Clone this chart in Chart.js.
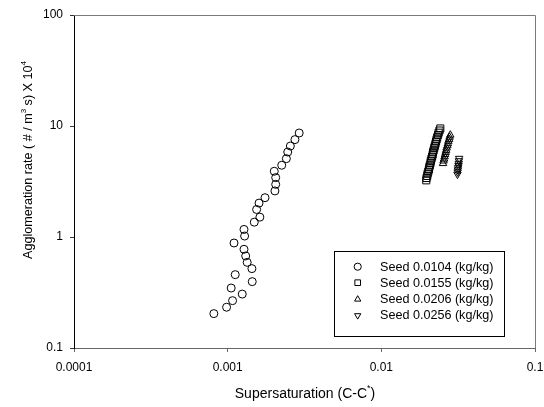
<!DOCTYPE html>
<html>
<head>
<meta charset="utf-8">
<script src="https://cdn.jsdelivr.net/npm/chart.js@4.4.0/dist/chart.umd.min.js"></script>
<style>
  html, body { margin: 0; padding: 0; background: #fff; }
  #wrap { width: 544px; height: 407px; }
</style>
</head>
<body>
<div id="wrap"><canvas id="c" width="544" height="407"></canvas></div>
<script>
// ---- Data ----
const seedLabels = ['Seed 0.0104 (kg/kg)', 'Seed 0.0155 (kg/kg)', 'Seed 0.0206 (kg/kg)', 'Seed 0.0256 (kg/kg)'];

const s1x = [0.000813, 0.000984, 0.001076, 0.001244, 0.001054, 0.001445, 0.00112, 0.001438, 0.00134, 0.00131,
             0.001277, 0.0011, 0.001289, 0.001277, 0.00149, 0.00162, 0.001543, 0.0016, 0.00175, 0.00203,
             0.002054, 0.002054, 0.00201, 0.002248, 0.00241, 0.00246, 0.002558, 0.00274, 0.00292];
const s1y = [0.204, 0.233, 0.267, 0.306, 0.347, 0.396, 0.458, 0.519, 0.591, 0.675,
             0.775, 0.883, 1.02, 1.17, 1.36, 1.51, 1.77, 2.02, 2.26, 2.60,
             2.98, 3.43, 3.91, 4.43, 5.08, 5.83, 6.6, 7.54, 8.65];

const s2x = [0.0196, 0.0197, 0.0199, 0.0200, 0.0202, 0.0204, 0.0205, 0.0207, 0.0209, 0.0210,
             0.0212, 0.0214, 0.0216, 0.0217, 0.0219, 0.0221, 0.0223, 0.0225, 0.0227, 0.0229,
             0.0231, 0.0234, 0.0236, 0.0239, 0.0242];
const s2y = [3.24, 3.40, 3.55, 3.72, 3.88, 4.05, 4.25, 4.43, 4.65, 4.85,
             5.08, 5.30, 5.55, 5.80, 6.05, 6.35, 6.62, 6.92, 7.25, 7.58,
             7.92, 8.30, 8.70, 9.10, 9.50];

const s3x = [0.0252, 0.0254, 0.0256, 0.0258, 0.0260, 0.0262, 0.0264, 0.0266, 0.0269, 0.0271, 0.0273, 0.0276, 0.0278, 0.0281];
const s3y = [4.60, 4.85, 5.05, 5.30, 5.55, 5.80, 6.05, 6.35, 6.65, 6.95, 7.30, 7.60, 7.95, 8.30];

const s4x = [0.0313, 0.0314, 0.0315, 0.0316, 0.0318, 0.0319, 0.0320, 0.0321];
const s4y = [3.67, 3.85, 4.02, 4.20, 4.40, 4.60, 4.85, 5.10];

const xTickValues = [0.0001, 0.001, 0.01, 0.1];
const xTickLabels = ['0.0001', '0.001', '0.01', '0.1'];
const yTickValues = [0.1, 1, 10, 100];
const yTickLabels = ['0.1', '1', '10', '100'];

// ---- Build datasets ----
const zip = (xs, ys) => xs.map((x, i) => ({ x: x, y: ys[i] }));
const styles = [
  { pointStyle: 'circle', radius: 4, rotation: 0 },
  { pointStyle: 'rect', radius: 5, rotation: 0 },
  { pointStyle: 'triangle', radius: 4.3, rotation: 0 },
  { pointStyle: 'triangle', radius: 4.3, rotation: 180 }
];
const seriesData = [zip(s1x, s1y), zip(s2x, s2y), zip(s3x, s3y), zip(s4x, s4y)];
const datasets = seriesData.map((d, i) => ({
  label: seedLabels[i],
  data: d,
  showLine: false,
  pointStyle: styles[i].pointStyle,
  pointRadius: styles[i].radius,
  pointRotation: styles[i].rotation,
  pointBorderColor: '#000',
  pointBackgroundColor: 'rgba(255,255,255,0)',
  pointBorderWidth: 1,
  borderColor: '#000',
  backgroundColor: 'rgba(255,255,255,0)'
}));

const FONT = 'Arial, "Liberation Sans", Helvetica, sans-serif';

function drawRich(ctx, parts, cx, cy, size) {
  const supSize = Math.round(size * 0.62);
  let total = 0;
  parts.forEach(p => {
    ctx.font = (p.sup ? supSize : size) + 'px ' + FONT;
    p.w = ctx.measureText(p.t).width;
    total += p.w;
  });
  let x = cx - total / 2;
  parts.forEach(p => {
    ctx.font = (p.sup ? supSize : size) + 'px ' + FONT;
    ctx.fillText(p.t, x, p.sup ? cy - size * 0.42 : cy);
    x += p.w;
  });
}

const decoPlugin = {
  id: 'deco',
  beforeDatasetsDraw(chart) {
    const a = chart.chartArea;
    const ctx = chart.ctx;
    ctx.save();
    ctx.strokeStyle = '#7a7a7a';
    ctx.lineWidth = 1;
    ctx.beginPath();
    ctx.moveTo(a.left, a.top + 0.5);
    ctx.lineTo(a.right + 0.5, a.top + 0.5);
    ctx.lineTo(a.right + 0.5, a.bottom);
    ctx.stroke();
    ctx.restore();
  },
  afterDraw(chart) {
    const ctx = chart.ctx;
    ctx.save();
    ctx.fillStyle = '#000';
    ctx.textAlign = 'left';
    ctx.textBaseline = 'middle';
    // x title
    drawRich(ctx, [{ t: 'Supersaturation (C-C' }, { t: '*', sup: true }, { t: ')' }], 305, 394, 14);
    // y title
    ctx.save();
    ctx.translate(29, 160);
    ctx.rotate(-Math.PI / 2);
    drawRich(ctx, [{ t: 'Agglomeration rate ( # / m' }, { t: '3', sup: true }, { t: ' s) X 10' }, { t: '4', sup: true }], 0, 0, 12.6);
    ctx.restore();

    // legend box
    ctx.strokeStyle = '#000';
    ctx.lineWidth = 1;
    ctx.strokeRect(334.5, 251.5, 170, 85);
    const rows = [266.7, 282.7, 299.3, 315.5];
    chart.data.datasets.forEach((ds, i) => {
      ctx.strokeStyle = '#000';
      ctx.fillStyle = 'rgba(255,255,255,0)';
      ctx.lineWidth = 1;
      Chart.helpers.drawPoint(ctx, {
        pointStyle: ds.pointStyle,
        rotation: ds.pointRotation,
        radius: ds.pointStyle === 'rect' ? 4 : 3.6,
        borderWidth: 1
      }, 357.7, rows[i]);
      ctx.fillStyle = '#000';
      ctx.font = '12.6px ' + FONT;
      ctx.textBaseline = 'middle';
      ctx.fillText(ds.label, 380, rows[i] + 0.5);
    });
    ctx.restore();
  }
};

new Chart(document.getElementById('c'), {
  type: 'scatter',
  data: { datasets: datasets },
  options: {
    responsive: false,
    animation: false,
    devicePixelRatio: 1,
    layout: { padding: { left: 0, right: 9, top: 15, bottom: 0 } },
    plugins: {
      legend: { display: false },
      tooltip: { enabled: false }
    },
    scales: {
      x: {
        type: 'logarithmic',
        min: 0.0001,
        max: 0.1,
        afterBuildTicks: s => { s.ticks = xTickValues.map(v => ({ value: v })); },
        afterFit: s => { s.height = 59; s.paddingLeft = 0; s.paddingRight = 0; },
        ticks: {
          autoSkip: false,
          maxRotation: 0,
          color: '#000',
          font: { family: FONT, size: 12 },
          padding: 8,
          callback: (v, i) => xTickLabels[i]
        },
        grid: { drawOnChartArea: false, drawTicks: true, tickLength: 4, color: '#666' },
        border: { display: true, color: '#666', width: 1 },
        title: { display: false }
      },
      y: {
        type: 'logarithmic',
        min: 0.1,
        max: 100,
        afterBuildTicks: s => { s.ticks = yTickValues.map(v => ({ value: v })); },
        afterFit: s => { s.width = 74; s.paddingTop = 0; s.paddingBottom = 0; },
        ticks: {
          autoSkip: false,
          color: '#000',
          font: { family: FONT, size: 12 },
          padding: 7,
          callback: (v, i) => yTickLabels[i]
        },
        grid: { drawOnChartArea: false, drawTicks: true, tickLength: 4, color: '#333' },
        border: { display: true, color: '#000', width: 1 },
        title: { display: false }
      }
    }
  },
  plugins: [decoPlugin]
});
</script>
</body>
</html>
